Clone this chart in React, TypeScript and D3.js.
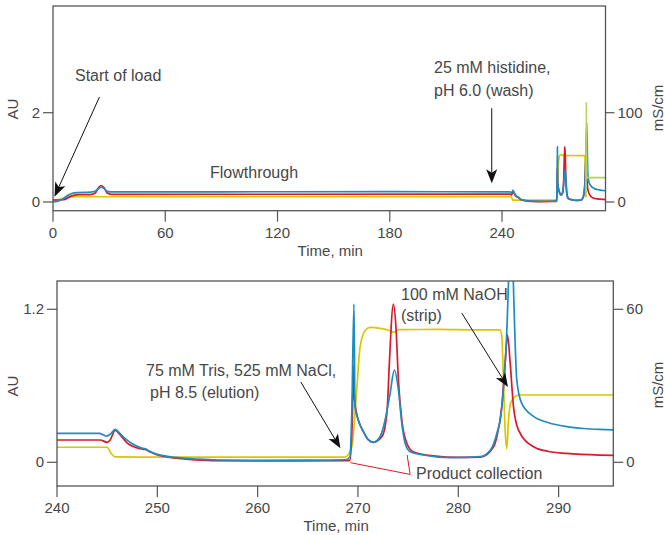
import React from 'react';
import * as d3 from 'd3';

type P = [number, number];

// ---------- Data (time in min, absorbance in AU, conductivity in mS/cm) ----------
const loadBlue: P[] = [
  [0, 0.01], [2, 0.015], [4, 0.04], [6, 0.09], [8, 0.15], [10, 0.19], [13, 0.21], [20, 0.22],
  [22.5, 0.24], [24.5, 0.31], [25.8, 0.33], [27.3, 0.3], [28.8, 0.245], [30.5, 0.228],
  [60, 0.228], [120, 0.23], [180, 0.232], [240, 0.227],
];
const loadRed: P[] = [
  [0, 0.045], [5, 0.05], [7, 0.07], [9, 0.12], [11, 0.15], [14, 0.165], [20, 0.165],
  [22.5, 0.2], [24.5, 0.33], [25.8, 0.37], [27.3, 0.32], [29, 0.2], [31, 0.172],
  [120, 0.174], [240, 0.175],
];
const loadCond: P[] = [
  [0, 2.3], [3, 2.6], [5, 3.8], [7, 5.4], [9, 5.9], [120, 5.9], [240, 5.9],
];

const elutionBlue: P[] = [
  [240, 0.227], [244.2, 0.227], [244.95, 0.206], [245.3, 0.22], [245.8, 0.259], [246.3, 0.225],
  [246.8, 0.185], [247.5, 0.145], [248.3, 0.115], [248.8, 0.105], [249.3, 0.085], [250, 0.062],
  [251, 0.047], [252.1, 0.036], [254, 0.025], [256, 0.018], [260, 0.016], [265, 0.017],
  [268.8, 0.02], [269.2, 0.044], [269.38, 0.38], [269.6, 1.24], [269.7, 0.436], [270.04, 0.33],
  [270.54, 0.24], [271.04, 0.175], [271.54, 0.157], [272.2, 0.2], [272.7, 0.33], [273.2, 0.54],
  [273.63, 0.724], [274.03, 0.567], [274.37, 0.306], [274.7, 0.15], [275.2, 0.083],
  [276.5, 0.057], [279.2, 0.036], [282.2, 0.044], [283.2, 0.096], [283.84, 0.227],
  [284.3, 0.4], [284.77, 0.91], [285.25, 1.78], [285.83, 0.645], [286.33, 0.46],
  [287.5, 0.36], [289, 0.31], [290.8, 0.28], [292.5, 0.265], [294.1, 0.258], [295.5, 0.255],
];
const elutionRed: P[] = [
  [240, 0.175], [244.3, 0.175], [245.0, 0.157], [245.3, 0.175], [245.8, 0.252], [246.3, 0.215],
  [247, 0.15], [248.3, 0.106], [248.8, 0.1], [249.3, 0.08], [250, 0.057], [252.1, 0.031],
  [255.5, 0.013], [260, 0.01], [268.8, 0.012], [269.2, 0.015], [269.45, 0.38], [269.54, 0.76],
  [269.64, 0.51], [269.8, 0.41], [270.04, 0.33], [270.54, 0.24], [271.04, 0.175],
  [271.54, 0.157], [272.37, 0.2], [272.7, 0.28], [272.93, 0.436], [273.13, 0.78],
  [273.53, 1.24], [273.8, 1.04], [274.03, 0.645], [274.37, 0.33], [274.87, 0.15],
  [275.5, 0.083], [277.5, 0.05], [280, 0.038], [282.2, 0.04], [283.5, 0.12], [283.84, 0.2],
  [284.33, 0.436], [284.67, 0.78], [284.9, 1.0], [285.17, 0.78], [285.5, 0.436],
  [286.0, 0.253], [287.5, 0.122], [289, 0.085], [290.8, 0.07], [294.1, 0.057], [295.5, 0.055],
];
const elutionCond: P[] = [
  [240, 5.9], [245.0, 5.9], [245.4, 3.5], [245.8, 2.1], [250, 2.0], [260, 2.0], [268.7, 2.0],
  [269.38, 5.9], [269.7, 19], [269.94, 32], [270.2, 45], [270.7, 51.6], [271.2, 52.9],
  [272.2, 52.5], [273.2, 51.6], [273.6, 51], [274.03, 52], [278, 52.1], [282, 51.9],
  [284.17, 51.9], [284.33, 49.7], [284.5, 32], [284.67, 12.4], [284.83, 5.3], [285.0, 16.4],
  [285.23, 23.5], [285.66, 25.8], [286.16, 26.4], [295.5, 26.4],
];
// overview chart: conductivity after the strip step (drawn in green)
const stripCond: P[] = [
  [284.83, 5.3], [285.05, 112], [285.25, 27.2], [295.5, 27.2],
];

const collectionStart = 269.25;
const collectionEnd = 274.9;

const topTimeTicks = [0, 60, 120, 180, 240];
const topAUTicks = [0, 2];
const topCondTicks = [0, 100];
const bottomTimeTicks = [240, 250, 260, 270, 280, 290];
const bottomAUTicks = [0, 1.2];
const bottomCondTicks = [0, 60];

// ---------- Styles ----------
const BLUE = '#1d8cc2';
const RED = '#d8192a';
const YELLOW = '#d9c700';
const GREEN = '#b4d45a';
const TEXT = '#474747';
const AXIS = '#555';
const FONT = '"Liberation Sans", Arial, Helvetica, sans-serif';
const FS = 15;
const FA = 16;

function Arrow({ x1, y1, x2, y2 }: { x1: number; y1: number; x2: number; y2: number }) {
  const dx = x2 - x1, dy = y2 - y1;
  const len = Math.hypot(dx, dy);
  const ux = dx / len, uy = dy / len;
  const nx = -uy, ny = ux;
  const L = 14, W = 5.5, N = 3.5;
  const bx = x2 - ux * L, by = y2 - uy * L;
  const mx = x2 - ux * (L - N), my = y2 - uy * (L - N);
  const d = `M${x2},${y2}L${bx + nx * W},${by + ny * W}L${mx},${my}L${bx - nx * W},${by - ny * W}Z`;
  return (
    <g>
      <line x1={x1} y1={y1} x2={mx} y2={my} stroke="#111" strokeWidth={1} />
      <path d={d} fill="#111" />
    </g>
  );
}

function Panel(props: {
  id: string;
  x: d3.ScaleLinear<number, number>;
  yAU: d3.ScaleLinear<number, number>;
  yC: d3.ScaleLinear<number, number>;
  top: number;
  bottom: number;
  timeTicks: number[];
  auTicks: number[];
  condTicks: number[];
  auFmt: (v: number) => string;
  lines: { data: P[]; scale: 'au' | 'c'; color: string }[];
  labelY: number;
  timeLabelY: number;
  tickLabelY: number;
  leftTickLen: number;
  rightTickLen: number;
}) {
  const { id, x, yAU, yC, top, bottom } = props;
  const [x0, x1] = x.range();
  const lineAU = d3.line<P>().x(d => x(d[0])).y(d => yAU(d[1])).curve(d3.curveMonotoneX);
  const lineC = d3.line<P>().x(d => x(d[0])).y(d => yC(d[1])).curve(d3.curveMonotoneX);
  return (
    <g>
      <defs>
        <clipPath id={id}>
          <rect x={x0} y={top} width={x1 - x0} height={bottom - top} />
        </clipPath>
      </defs>
      <g clipPath={`url(#${id})`}>
        {props.lines.map((l, i) => (
          <path key={i} d={(l.scale === 'au' ? lineAU : lineC)(l.data) || ''} fill="none"
            stroke={l.color} strokeWidth={1.7} strokeLinejoin="round" />
        ))}
      </g>
      <rect x={x0} y={top} width={x1 - x0} height={bottom - top} fill="none" stroke={AXIS} strokeWidth={1.3} />
      {props.timeTicks.map(t => (
        <g key={t}>
          <line x1={x(t)} x2={x(t)} y1={bottom} y2={bottom + 11} stroke={AXIS} strokeWidth={1.2} />
          <text x={x(t)} y={props.tickLabelY} textAnchor="middle" fontSize={FS} fill={TEXT} fontFamily={FONT}>{t}</text>
        </g>
      ))}
      {props.auTicks.map(v => (
        <g key={v}>
          <line x1={x0 - props.leftTickLen} x2={x0} y1={yAU(v)} y2={yAU(v)} stroke={AXIS} strokeWidth={1.2} />
          <text x={x0 - props.leftTickLen - 3} y={yAU(v) + 5} textAnchor="end" fontSize={FS} fill={TEXT} fontFamily={FONT}>{props.auFmt(v)}</text>
        </g>
      ))}
      {props.condTicks.map(v => (
        <g key={v}>
          <line x1={x1} x2={x1 + props.rightTickLen} y1={yC(v)} y2={yC(v)} stroke={AXIS} strokeWidth={1.2} />
          <text x={x1 + props.rightTickLen + 3} y={yC(v) + 5} textAnchor="start" fontSize={FS} fill={TEXT} fontFamily={FONT}>{v}</text>
        </g>
      ))}
      <text x={(x0 + x1) / 2 + 1} y={props.timeLabelY} textAnchor="middle" fontSize={FS} fill={TEXT} fontFamily={FONT}>Time, min</text>
      <text transform={`translate(18,${props.labelY}) rotate(-90)`} textAnchor="middle" fontSize={FS} fill={TEXT} fontFamily={FONT}>AU</text>
      <text transform={`translate(663,${props.labelY - 1}) rotate(-90)`} textAnchor="middle" fontSize={FS} fill={TEXT} fontFamily={FONT}>mS/cm</text>
    </g>
  );
}

export default function App() {
  // overview panel
  const xT = d3.scaleLinear().domain([0, 295.3]).range([53, 605.5]);
  const yAUT = d3.scaleLinear().domain([0, 2]).range([202, 112.7]);
  const yCT = d3.scaleLinear().domain([0, 100]).range([202, 112.7]);
  // detail panel
  const xB = d3.scaleLinear().domain([240, 295.45]).range([57, 613.3]);
  const yAUB = d3.scaleLinear().domain([0, 1.2]).range([462.3, 309.3]);
  const yCB = d3.scaleLinear().domain([0, 60]).range([462.3, 309.3]);

  const topBlue = loadBlue.concat(elutionBlue.filter(d => d[0] > 240));
  const topRed = loadRed.concat(elutionRed.filter(d => d[0] > 240));
  const topCond = loadCond.concat(elutionCond.filter(d => d[0] > 240 && d[0] <= 284.83));

  const ann = { fontSize: FA, fill: TEXT, fontFamily: FONT };

  return (
    <svg width={665} height={535} style={{ position: 'absolute', left: 0, top: 0, background: '#fff' }}>
      <rect width={665} height={535} fill="#fff" />
      <Panel id="clipTop" x={xT} yAU={yAUT} yC={yCT} top={6} bottom={210.7}
        timeTicks={topTimeTicks} auTicks={topAUTicks} condTicks={topCondTicks} auFmt={v => String(v)}
        lines={[
          { data: topCond, scale: 'c', color: YELLOW },
          { data: topRed, scale: 'au', color: RED },
          { data: topBlue, scale: 'au', color: BLUE },
          { data: stripCond, scale: 'c', color: GREEN },
        ]}
        labelY={109} timeLabelY={256} tickLabelY={238} leftTickLen={10} rightTickLen={9} />
      <Panel id="clipBottom" x={xB} yAU={yAUB} yC={yCB} top={281} bottom={486}
        timeTicks={bottomTimeTicks} auTicks={bottomAUTicks} condTicks={bottomCondTicks} auFmt={v => (v === 0 ? '0' : v.toFixed(1))}
        lines={[
          { data: elutionCond, scale: 'c', color: YELLOW },
          { data: elutionRed, scale: 'au', color: RED },
          { data: elutionBlue, scale: 'au', color: BLUE },
        ]}
        labelY={386} timeLabelY={531} tickLabelY={513} leftTickLen={10} rightTickLen={10} />

      {/* overview annotations */}
      <text x={75} y={81} {...ann}>Start of load</text>
      <Arrow x1={xT(24.8)} y1={yAUT(2.35)} x2={xT(0.8)} y2={yAUT(0.12)} />
      <text x={210} y={178} {...ann}>Flowthrough</text>
      <text x={434} y={73} {...ann}>25 mM histidine,</text>
      <text x={434} y={96} {...ann}>pH 6.0 (wash)</text>
      <Arrow x1={xT(234.5)} y1={yAUT(2.1)} x2={xT(234.5)} y2={yAUT(0.42)} />

      {/* detail annotations */}
      <text x={146} y={376} {...ann}>75 mM Tris, 525 mM NaCl,</text>
      <text x={150} y={398} {...ann}>pH 8.5 (elution)</text>
      <Arrow x1={xB(264.3)} y1={yAUB(0.63)} x2={xB(268.25)} y2={yAUB(0.11)} />
      <text x={401} y={300} {...ann}>100 mM NaOH</text>
      <text x={401} y={321} {...ann}>(strip)</text>
      <Arrow x1={xB(280.35)} y1={yAUB(1.17)} x2={xB(284.95)} y2={yAUB(0.59)} />
      <path
        d={`M${xB(collectionStart)},${yAUB(-0.003)}L${xB(collectionEnd) + 3},${yAUB(-0.095)}L${xB(collectionEnd)},${yAUB(0.057)}`}
        fill="none" stroke={RED} strokeWidth={1} />
      <text x={416} y={479} {...ann}>Product collection</text>
    </svg>
  );
}
